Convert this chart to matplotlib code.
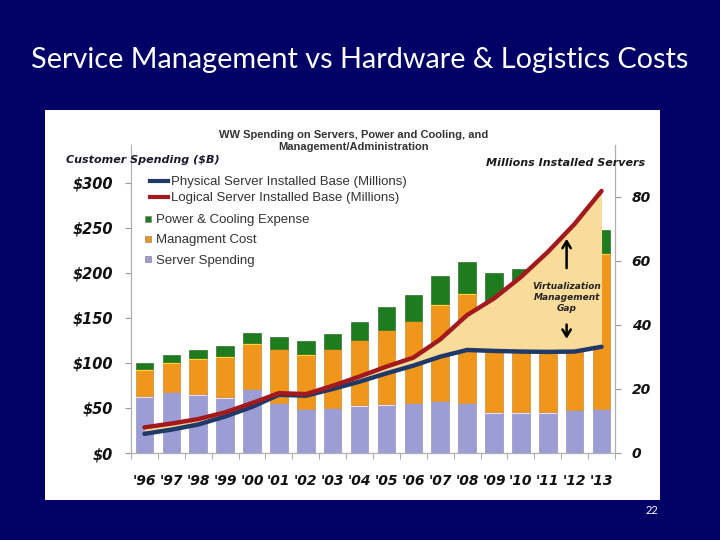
import numpy as np
import matplotlib.pyplot as plt
from matplotlib.lines import Line2D
from matplotlib.patches import Rectangle

# data
years = ["'96", "'97", "'98", "'99", "'00", "'01", "'02", "'03", "'04",
         "'05", "'06", "'07", "'08", "'09", "'10", "'11", "'12", "'13"]
server = [63, 68, 65, 62, 71, 56, 49, 50, 53, 54, 56, 58, 56, 45, 45, 45, 48, 49]
mgmt = [30, 33, 40, 46, 51, 60, 61, 66, 73, 83, 91, 107, 122, 121, 125, 135, 150, 173]
power = [7, 8, 9, 11, 11, 13, 14, 16, 19, 25, 28, 32, 34, 34, 34, 32, 30, 26]
physical = [6, 7.3, 8.9, 11.4, 14.4, 18.2, 17.9, 20, 22.3, 24.9, 27.3, 30.1,
            32.2, 31.9, 31.7, 31.6, 31.7, 33.2]
logical = [8, 9.2, 10.6, 12.7, 15.6, 18.7, 18.4, 21, 23.9, 27, 29.8, 35.5,
           43.1, 48.3, 55, 62.8, 71.6, 81.9]
left_ticks = [0, 50, 100, 150, 200, 250, 300]
right_ticks = [0, 20, 40, 60, 80]

c_server = '#9D9DD6'
c_mgmt = '#F0961A'
c_power = '#1E7B1E'
c_phys = '#1F3A68'
c_log = '#A31A1E'

x = np.arange(len(years))
server = np.array(server, dtype=float)
mgmt_top = server + np.array(mgmt)

W, H = 720, 540
fig = plt.figure(figsize=(7.2, 5.4), dpi=100)
fig.patch.set_facecolor('#000066')
fig.add_artist(Rectangle((45 / W, 40 / H), 615 / W, 390 / H, transform=fig.transFigure,
                         facecolor='white', edgecolor='none', zorder=-10))

ax = fig.add_axes([131 / W, 87 / H, 484 / W, 308 / H])
ax.set_facecolor('none')
bw = 0.65
ax.bar(x, server, width=bw, color=c_server, edgecolor='#8a8ab8', linewidth=0.4)
ax.bar(x, 1.5, bottom=server - 1.5, width=bw, color='#ECE0EE', linewidth=0)
ax.bar(x, mgmt, bottom=server, width=bw, color=c_mgmt, edgecolor='#c07a20', linewidth=0.4)
ax.bar(x, 2, bottom=mgmt_top - 2, width=bw, color='#F6D83C', linewidth=0)
ax.bar(x, power, bottom=mgmt_top, width=bw, color=c_power, edgecolor='#1a5a1a', linewidth=0.4)

ax.set_xlim(-0.5, 17.5)
ax.set_ylim(0, 342.2)
ax.spines['top'].set_visible(False)
for s in ['left', 'right', 'bottom']:
    ax.spines[s].set_color('#b0b0b0')
ax.spines['left'].set_bounds(0, 300)

tick_font = dict(family='DejaVu Sans', fontweight='bold', fontstyle='italic', color='#111111')
ax.set_yticks(left_ticks)
ax.set_yticklabels([f'${v}' for v in left_ticks], fontsize=10.5, **tick_font)
ax.tick_params(axis='y', length=4, color='#999999', pad=9)
ax.set_xticks(x)
ax.set_xticklabels(years, fontsize=10, **tick_font)
ax.set_xticks(np.arange(len(years) + 1) - 0.5, minor=True)
ax.tick_params(axis='x', which='major', length=0, pad=15)
ax.tick_params(axis='x', which='minor', length=4, color='#999999')

ax2 = ax.twinx()
ax2.set_ylim(0, 96.25)
ax2.spines['top'].set_visible(False)
for s in ['left', 'right', 'bottom']:
    ax2.spines[s].set_color('#b0b0b0')
ax2.set_yticks(right_ticks)
ax2.set_yticklabels([str(v) for v in right_ticks], fontsize=10, **tick_font)
ax2.tick_params(axis='y', length=4, color='#999999', pad=8)

# the "gap" between physical and logical servers
ax2.fill_between(x, physical, logical, color='#F9DB9A', linewidth=0, zorder=1)
ax2.plot(x, physical, color=c_phys, lw=3.2, zorder=3, solid_capstyle='round')
ax2.plot(x, logical, color=c_log, lw=3.2, zorder=3, solid_capstyle='round')

ax2.text(15.7, 48.7, 'Virtualization\nManagement\nGap', ha='center', va='center',
         fontsize=6.5, family='DejaVu Sans', fontweight='bold', fontstyle='italic',
         color='#222222', linespacing=1.3, zorder=4)
arrow = dict(arrowstyle='->,head_length=0.5,head_width=0.3', lw=1.8, color='black')
ax2.annotate('', xy=(15.7, 67.8), xytext=(15.7, 56.9), arrowprops=arrow, zorder=4)
ax2.annotate('', xy=(15.7, 34.8), xytext=(15.7, 41.0), arrowprops=arrow, zorder=4)

leg_prop = {'family': 'Liberation Sans', 'size': 9.5}
line_handles = [Line2D([], [], color=c_phys, lw=3), Line2D([], [], color=c_log, lw=3)]
leg1 = ax2.legend(line_handles,
                  ['Physical Server Installed Base (Millions)',
                   'Logical Server Installed Base (Millions)'],
                  loc='upper left', bbox_to_anchor=(150 / W, 1 - 176 / H),
                  bbox_transform=fig.transFigure, frameon=False, prop=leg_prop,
                  handlelength=1.35, handletextpad=0.25, labelspacing=0.28,
                  borderpad=0, borderaxespad=0)
for t in leg1.get_texts():
    t.set_color('#333333')
ax2.add_artist(leg1)

bar_handles = [Line2D([], [], marker='s', ls='', color=c, markersize=5,
                      markeredgecolor='#777777', markeredgewidth=0.4)
               for c in [c_power, c_mgmt, c_server]]
leg2 = ax2.legend(bar_handles, ['Power & Cooling Expense', 'Managment Cost', 'Server Spending'],
                  loc='upper left', bbox_to_anchor=(144 / W, 1 - 214 / H),
                  bbox_transform=fig.transFigure, frameon=False, prop=leg_prop,
                  handlelength=0.6, handletextpad=0.3, labelspacing=0.6,
                  borderpad=0, borderaxespad=0)
for t in leg2.get_texts():
    t.set_color('#333333')

fig.text(0.5, 1 - 60 / H, 'Service Management vs Hardware & Logistics Costs',
         color='white', fontsize=20.8, family='Lato', ha='center', va='center')
fig.text(354 / W, 1 - 141 / H, 'WW Spending on Servers, Power and Cooling, and\nManagement/Administration',
         ha='center', va='center', fontsize=8, fontweight='bold', family='Liberation Sans',
         color='#333333', linespacing=1.25)
fig.text(66 / W, 1 - 160 / H, 'Customer Spending ($B)', ha='left', va='center',
         fontsize=8, family='DejaVu Sans', fontweight='bold', fontstyle='italic', color='#1a1a2e')
fig.text(645 / W, 1 - 163 / H, 'Millions Installed Servers', ha='right', va='center',
         fontsize=8, family='DejaVu Sans', fontweight='bold', fontstyle='italic', color='#1a1a1a')
fig.text(652 / W, 1 - 511 / H, '22', color='white', fontsize=8, family='Lato',
         ha='center', va='center')

fig.savefig('out.png', dpi=100, facecolor=fig.get_facecolor())
